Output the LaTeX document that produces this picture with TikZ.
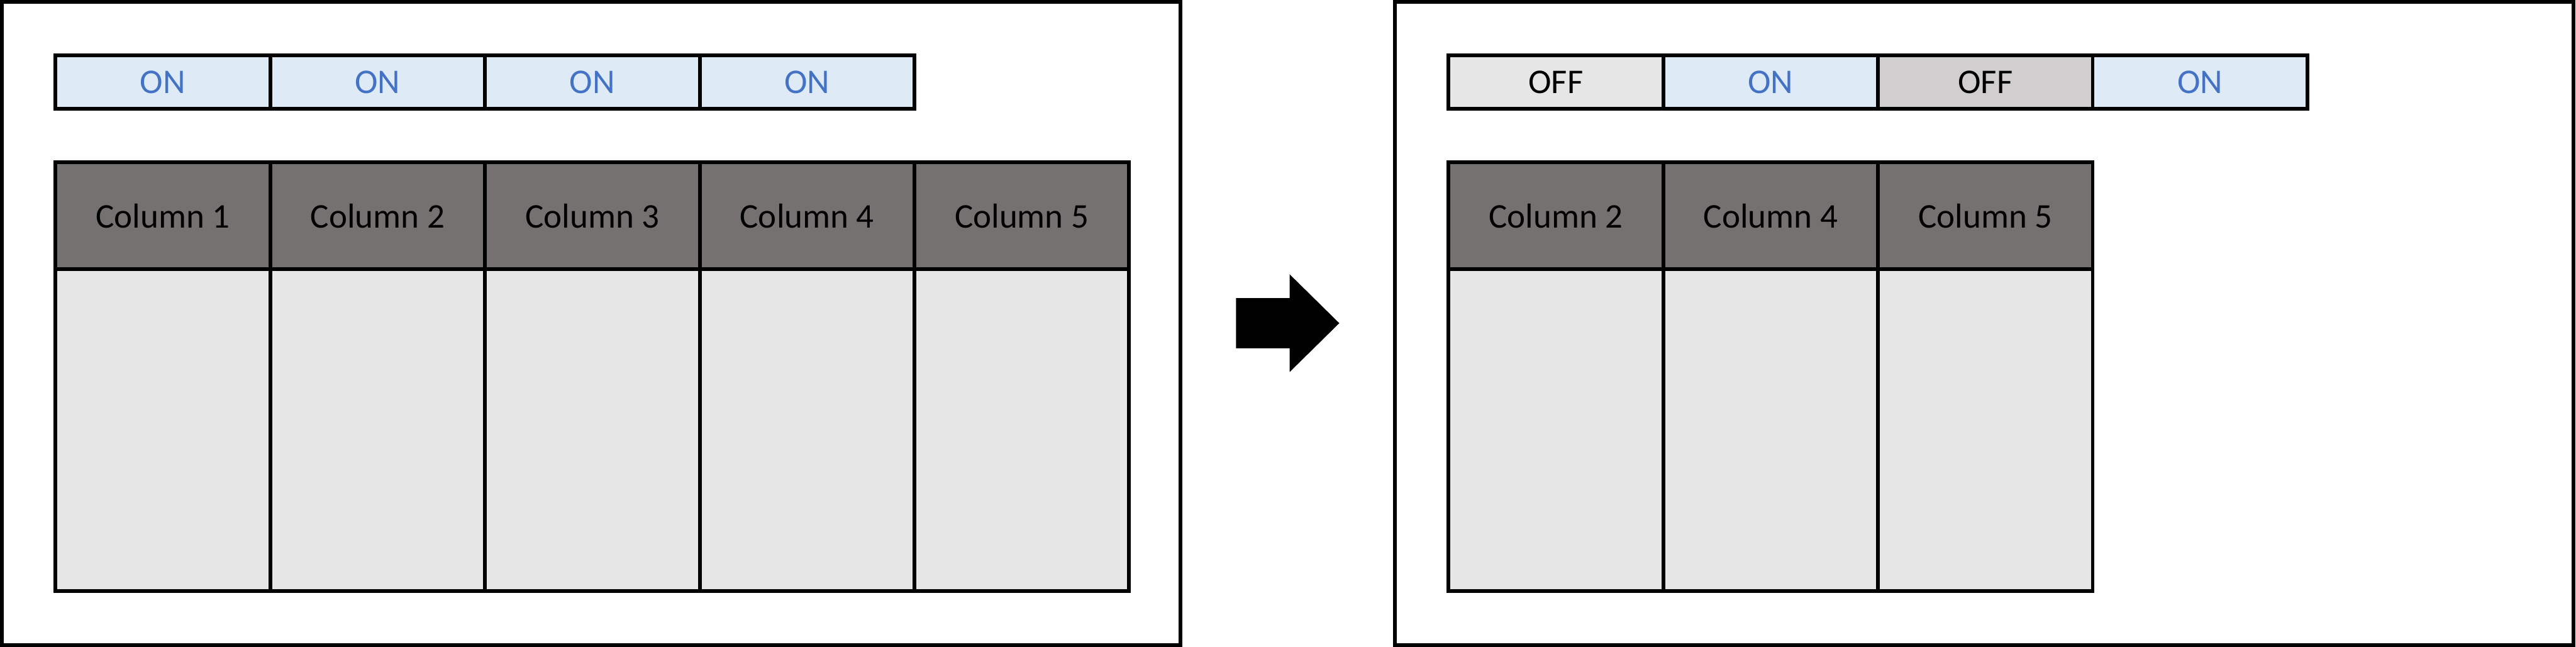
\documentclass[tikz,border=0pt]{standalone}
\usepackage{fontspec}
\setmainfont{Carlito}
\usepackage{xcolor}
\usepackage{tikz}
\usetikzlibrary{positioning}

\definecolor{onfill}{HTML}{DEEBF7}
\definecolor{ontext}{HTML}{4472C4}
\definecolor{offlight}{HTML}{E7E6E6}
\definecolor{offdark}{HTML}{D0CECE}
\definecolor{headgray}{HTML}{767171}
\definecolor{bodygray}{HTML}{E7E6E6}

\begin{document}
\begin{tikzpicture}[
    every node/.style={
        draw, line width=1.6pt,
        inner sep=0pt, outer sep=0pt,
        font=\fontsize{15}{18}\selectfont
    },
    switchbox/.style={minimum width=3.2675cm, minimum height=0.81cm},
    panel/.style={fill=white, minimum width=17.9375cm, minimum height=9.7875cm}
]
\tikzstyle{onbox} = [switchbox, fill=onfill, text=ontext]
\tikzstyle{offbox} = [switchbox, fill=offlight]
\tikzstyle{offboxdark} = [switchbox, fill=offdark]
\tikzstyle{headcell} = [fill=headgray, minimum width=3.2675cm, minimum height=1.63cm]
\tikzstyle{bodycell} = [fill=bodygray, minimum width=3.2675cm, minimum height=4.895cm]

\useasboundingbox (0,0) rectangle (39.2,-9.8425);

% two panels
\node[panel] (before) at (8.9965,-4.9215) {};
\node[panel] (after) at (30.1965,-4.9215) {};

% before: all switches on
\node[onbox, anchor=west] (sw1) at (0.845,-1.2475) {ON};
\node[onbox, right=0pt of sw1] (sw2) {ON};
\node[onbox, right=0pt of sw2] (sw3) {ON};
\node[onbox, right=0pt of sw3] (sw4) {ON};

\node[headcell, anchor=north west] (col1) at (0.845,-2.47) {Column 1};
\node[headcell, right=0pt of col1] (col2) {Column 2};
\node[headcell, right=0pt of col2] (col3) {Column 3};
\node[headcell, right=0pt of col3] (col4) {Column 4};
\node[headcell, right=0pt of col4] (col5) {Column 5};

\node[bodycell, below=0pt of col1] (body1) {};
\node[bodycell, below=0pt of col2] (body2) {};
\node[bodycell, below=0pt of col3] (body3) {};
\node[bodycell, below=0pt of col4] (body4) {};
\node[bodycell, below=0pt of col5] (body5) {};

% block arrow between the panels
\fill[black] (18.81,-4.5375) -- (19.625,-4.5375) -- (19.625,-4.175)
    -- (20.38,-4.919) -- (19.625,-5.6625) -- (19.625,-5.3)
    -- (18.81,-5.3) -- cycle;

% after: two switches off
\node[offbox, anchor=west] (tsw1) at (22.0425,-1.2475) {OFF};
\node[onbox, right=0pt of tsw1] (tsw2) {ON};
\node[offboxdark, right=0pt of tsw2] (tsw3) {OFF};
\node[onbox, right=0pt of tsw3] (tsw4) {ON};

\node[headcell, anchor=north west] (tcol2) at (22.0425,-2.47) {Column 2};
\node[headcell, right=0pt of tcol2] (tcol4) {Column 4};
\node[headcell, right=0pt of tcol4] (tcol5) {Column 5};

\node[bodycell, below=0pt of tcol2] (tbody2) {};
\node[bodycell, below=0pt of tcol4] (tbody4) {};
\node[bodycell, below=0pt of tcol5] (tbody5) {};
\end{tikzpicture}
\end{document}
